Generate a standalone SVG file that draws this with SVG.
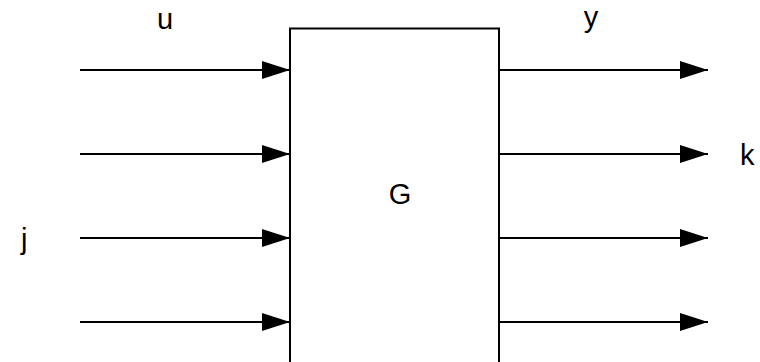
<svg xmlns="http://www.w3.org/2000/svg" width="760" height="362" viewBox="0 0 760 362">
  <style>
    .wire { stroke: #000; stroke-width: 2; fill: none; }
    .lbl { font-family: "Liberation Sans", Arial, sans-serif; font-size: 29px; fill: #000; }
  </style>
  <defs>
    <marker id="head" markerUnits="userSpaceOnUse" markerWidth="28" markerHeight="18" refX="28" refY="9" orient="auto">
      <path d="M0,0 L28,9 L0,18 Z" fill="#000"/>
    </marker>
  </defs>
  <rect width="760" height="362" fill="#fff"/>

  <g id="block-G">
    <rect x="290" y="28.5" width="209" height="340" fill="#fff" stroke="#000" stroke-width="2"/>
    <text class="lbl" x="400" y="204" text-anchor="middle">G</text>
  </g>

  <g id="connectors">
    <line class="wire" x1="80" y1="70" x2="290" y2="70" marker-end="url(#head)"/>
    <line class="wire" x1="80" y1="154" x2="290" y2="154" marker-end="url(#head)"/>
    <line class="wire" x1="80" y1="238" x2="290" y2="238" marker-end="url(#head)"/>
    <line class="wire" x1="80" y1="322" x2="290" y2="322" marker-end="url(#head)"/>
    <line class="wire" x1="499" y1="70" x2="708" y2="70" marker-end="url(#head)"/>
    <line class="wire" x1="499" y1="154" x2="708" y2="154" marker-end="url(#head)"/>
    <line class="wire" x1="499" y1="238" x2="708" y2="238" marker-end="url(#head)"/>
    <line class="wire" x1="499" y1="322" x2="708" y2="322" marker-end="url(#head)"/>
  </g>

  <g id="labels">
    <text class="lbl" x="165" y="29" text-anchor="middle">u</text>
    <text class="lbl" x="591" y="27" text-anchor="middle">y</text>
    <text class="lbl" x="740" y="165">k</text>
    <text class="lbl" x="21" y="249">j</text>
  </g>
</svg>
